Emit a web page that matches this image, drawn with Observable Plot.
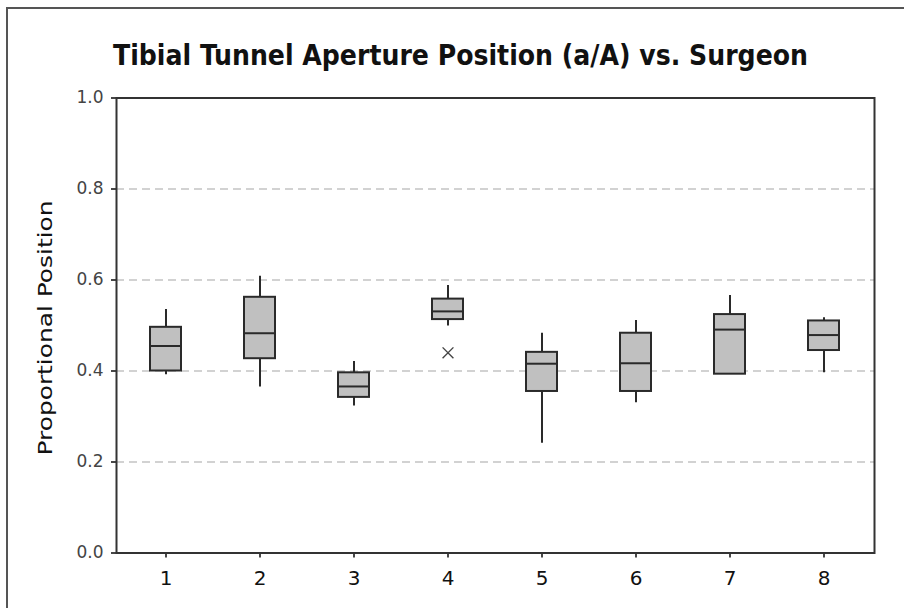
<!DOCTYPE html>
<html><head><meta charset="utf-8">
<script src="https://cdn.jsdelivr.net/npm/d3@7"></script>
<script src="https://cdn.jsdelivr.net/npm/@observablehq/plot@0.6"></script>
<style>
body{margin:0;background:#fff;}
#wrap{position:relative;width:904px;height:608px;overflow:hidden;background:#fff;}
#border{position:absolute;left:6px;top:7px;width:1000px;height:1000px;border-top:2px solid #555;border-left:2px solid #555;}
#wrap svg{position:absolute;left:0;top:0;}
</style></head><body><div id="wrap"><div id="border"></div></div>
<script>
const titleText = "Tibial Tunnel Aperture Position (a/A) vs. Surgeon";
const yLabel = "Proportional Position";
const surgeons = ["1","2","3","4","5","6","7","8"];
const whiskerLow  = [0.392,0.365,0.323,0.499,0.241,0.330,0.393,0.396];
const q1          = [0.400,0.427,0.342,0.513,0.355,0.355,0.393,0.445];
const median      = [0.455,0.483,0.366,0.531,0.416,0.417,0.491,0.479];
const q3          = [0.496,0.562,0.396,0.558,0.441,0.483,0.524,0.510];
const whiskerHigh = [0.535,0.608,0.421,0.588,0.483,0.511,0.566,0.517];
const outlierSurgeon = ["4"];
const outlierValue = [0.440];
const yTicks = [0,0.2,0.4,0.6,0.8,1.0];
const gridTicks = [0.2,0.4,0.6,0.8];

const data = surgeons.map((s,i)=>({s, wl:whiskerLow[i], q1:q1[i], med:median[i], q3:q3[i], wh:whiskerHigh[i]}));
const outliers = outlierSurgeon.map((s,i)=>({s, v:outlierValue[i]}));

const svg = Plot.plot({
  width: 904, height: 608,
  marginLeft: 116, marginRight: 30, marginTop: 97.5, marginBottom: 55.5,
  style: {fontFamily: "DejaVu Sans", background: "transparent", overflow: "visible"},
  x: {type: "band", domain: surgeons, paddingInner: 0.667, paddingOuter: 0.3335},
  y: {domain: [0, 1]},
  marks: [
    Plot.ruleY(gridTicks, {stroke: "#c4c4c4", strokeWidth: 1.6, strokeDasharray: "8,5"}),
    Plot.ruleX(data, {x: "s", y1: "wl", y2: "q1", stroke: "#2a2a2a", strokeWidth: 2}),
    Plot.ruleX(data, {x: "s", y1: "q3", y2: "wh", stroke: "#2a2a2a", strokeWidth: 2}),
    Plot.barY(data, {x: "s", y1: "q1", y2: "q3", fill: "#c0c0c0", stroke: "#2a2a2a", strokeWidth: 2}),
    Plot.tickY(data, {x: "s", y: "med", stroke: "#2a2a2a", strokeWidth: 2}),
    Plot.dot(outliers, {x: "s", y: "v", symbol: "times", r: 5, stroke: "#444", strokeWidth: 1.4}),
    Plot.axisX({tickSize: 5, tickPadding: 13, fontSize: 20, label: null, stroke: "#333", fill: "#111", strokeWidth: 1.8}),
    Plot.axisY({ticks: yTicks, tickFormat: d3.format(".1f"), tickSize: 5, tickPadding: 8, fontSize: 17, label: null, stroke: "#333", fill: "#444", strokeWidth: 1.8}),
    Plot.frame({stroke: "#333", strokeWidth: 2})
  ]
});

const s = d3.select(svg);
s.append("text")
  .attr("x", 460.5).attr("y", 65)
  .attr("text-anchor", "middle")
  .attr("font-family", "'DejaVu Sans Condensed', 'DejaVu Sans'")
  .attr("font-weight", "bold")
  .attr("font-size", 29)
  .attr("textLength", 695)
  .attr("lengthAdjust", "spacingAndGlyphs")
  .attr("fill", "#111")
  .text(titleText);
s.append("text")
  .attr("transform", "translate(52,328) rotate(-90)")
  .attr("text-anchor", "middle")
  .attr("font-family", "'DejaVu Sans', sans-serif")
  .attr("font-size", 19)
  .attr("textLength", 255)
  .attr("lengthAdjust", "spacingAndGlyphs")
  .attr("fill", "#111")
  .text(yLabel);

document.getElementById("wrap").appendChild(svg);
</script></body></html>
